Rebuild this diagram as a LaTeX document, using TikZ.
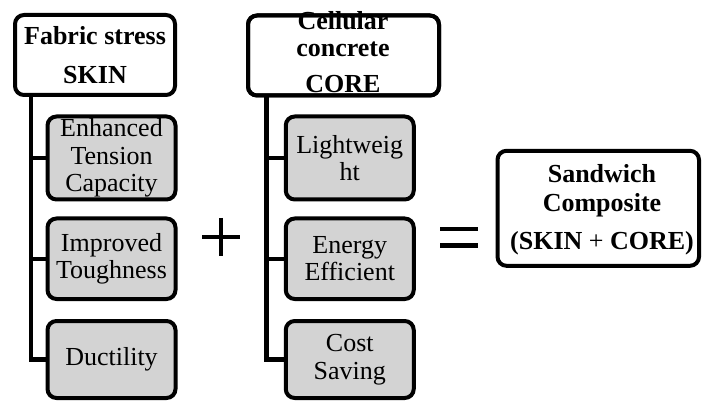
\documentclass[tikz,border=0pt]{standalone}
\usepackage{fontspec}
\setmainfont{Liberation Serif}
\definecolor{subgray}{RGB}{211,211,211}
\begin{document}
\begin{tikzpicture}[x=1pt,y=-1pt,
  boxline/.style={line width=4pt, rounded corners=9pt},
  hdr/.style={draw, boxline, fill=white, inner sep=0pt, outer sep=0pt, align=center,
    font=\fontsize{26}{39}\selectfont\bfseries},
  hdrtxt/.style={inner sep=0pt, outer sep=0pt, align=center},
  sub/.style={draw, boxline, fill=subgray, inner sep=0pt, outer sep=0pt,
    minimum width=128pt, align=center, font=\fontsize{26}{27.5}\selectfont},
  conn/.style={line width=4.5pt},
  sym/.style={line width=4.5pt}]
\useasboundingbox (0,0) rectangle (702,401);

% ---- SKIN column
\node[hdr, minimum width=160pt, minimum height=80pt] (skin) at (95,55) {Fabric stress\\SKIN};
\node[sub, minimum height=83pt]   (s1) at (111.5,158)    {Enhanced\\Tension\\Capacity};
\node[sub, minimum height=80.5pt] (s2) at (111.5,258.75) {Improved\\Toughness};
\node[sub, minimum height=77pt]   (s3) at (111.5,359.5)  {Ductility};
\coordinate (skinstem) at (skin.south -| 31,0);
\draw[conn] (skinstem) |- (s3.west);
\draw[conn] (skinstem |- s1.west) -- (s1.west);
\draw[conn] (skinstem |- s2.west) -- (s2.west);

% ---- CORE column
\node[hdr, minimum width=191pt, minimum height=80pt] (core) at (343.5,55.5) {};
\node[hdrtxt, font=\fontsize{26}{27}\selectfont\bfseries] (coretxt) at (343,52.6)
  {Cellular\\concrete\\[9pt]CORE};
\draw[boxline] (core.north west) rectangle (core.south east);
\node[sub, minimum height=83pt]   (c1) at (349.75,158)    {Lightweig\\ht};
\node[sub, minimum height=80.5pt] (c2) at (349.75,258.75) {Energy\\Efficient};
\node[sub, minimum height=77pt]   (c3) at (349.75,359.5)  {Cost\\Saving};
\coordinate (corestem) at (core.south -| 266.3,0);
\draw[conn] (corestem) |- (c3.west);
\draw[conn] (corestem |- c1.west) -- (c1.west);
\draw[conn] (corestem |- c2.west) -- (c2.west);

% ---- result
\node[hdr, minimum width=201.5pt, minimum height=115pt] (sandwich) at (598.25,208.3) {};
\node[hdrtxt, font=\fontsize{26}{29}\selectfont\bfseries] (sandtxt) at (602,210)
  {Sandwich\\Composite\\[9pt](SKIN {\mdseries+} CORE)};

% ---- plus and equals signs
\draw[sym] (202,237) -- (240,237);
\draw[sym] (221,218) -- (221,256);
\draw[sym] (440,229) -- (478,229);
\draw[sym] (440,245.5) -- (478,245.5);
\end{tikzpicture}
\end{document}
